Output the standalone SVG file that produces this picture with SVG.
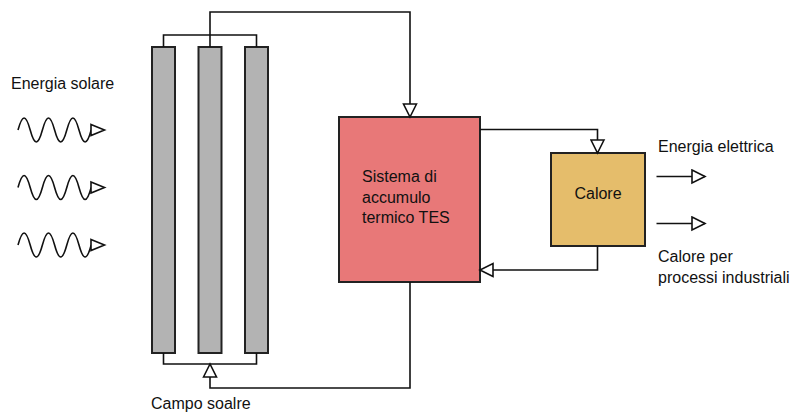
<svg xmlns="http://www.w3.org/2000/svg" width="792" height="414" viewBox="0 0 792 414">
<style>
text{font-family:"Liberation Sans",Arial,sans-serif;font-size:16px;fill:#111}
.panel{fill:#b3b3b3;stroke:#222;stroke-width:2}
.conn{fill:none;stroke:#111;stroke-width:1.6}
.wave{fill:none;stroke:#111;stroke-width:1.6}
.tri{fill:#fff;stroke:#111;stroke-width:1.6}
</style>
<defs>
<marker id="arr" markerUnits="userSpaceOnUse" markerWidth="16" markerHeight="16" viewBox="-1 -8 16 16" refX="13" refY="0" orient="auto">
<path d="M0,-6.5 L13,0 L0,6.5 Z" fill="#fff" stroke="#111" stroke-width="1.6"/>
</marker>
</defs>
<rect width="792" height="414" fill="#fff"/>

<g id="solar-input">
<text x="11" y="89">Energia solare</text>
<path class="wave" d="M18,130 c4.4,-16 7.8,-16 12.2,0 s7.8,16 12.2,0 s7.8,-16 12.2,0 s7.8,16 12.2,0 s7.8,-16 12.2,0 s7.8,16 12.2,0"/>
<polygon class="tri" points="91,124.5 104.5,130 91,135.5"/>
<path class="wave" d="M18,187.5 c4.4,-16 7.8,-16 12.2,0 s7.8,16 12.2,0 s7.8,-16 12.2,0 s7.8,16 12.2,0 s7.8,-16 12.2,0 s7.8,16 12.2,0"/>
<polygon class="tri" points="91,182 104.5,187.5 91,193"/>
<path class="wave" d="M18,245 c4.4,-16 7.8,-16 12.2,0 s7.8,16 12.2,0 s7.8,-16 12.2,0 s7.8,16 12.2,0 s7.8,-16 12.2,0 s7.8,16 12.2,0"/>
<polygon class="tri" points="91,239.5 104.5,245 91,250.5"/>
</g>

<g id="campo-solare">
<rect class="panel" x="152" y="47" width="23" height="306"/>
<rect class="panel" x="198.5" y="47" width="23" height="306"/>
<rect class="panel" x="245" y="47" width="23" height="306"/>
<text x="151" y="409">Campo soalre</text>
</g>

<g id="tes">
<rect x="339" y="117" width="141" height="165" fill="#e87878" stroke="#222" stroke-width="2"/>
<text x="362" y="182">Sistema di</text>
<text x="362" y="202.5">accumulo</text>
<text x="362" y="223">termico TES</text>
</g>

<g id="calore">
<rect x="551" y="153" width="94" height="93" fill="#e5bd6b" stroke="#222" stroke-width="2"/>
<text x="598" y="199" text-anchor="middle">Calore</text>
</g>

<g id="outputs">
<text x="658" y="152">Energia elettrica</text>
<text x="658" y="262">Calore per</text>
<text x="658" y="283">processi industriali</text>
</g>

<g id="connectors">
<path class="conn" d="M163.5,47 V35 H256.5 V47"/>
<path class="conn" d="M210,47 V12 H410 V117" marker-end="url(#arr)"/>
<path class="conn" d="M163.5,353 V364 H256.5 V353"/>
<path class="conn" d="M410,282 V388 H210 V364" marker-end="url(#arr)"/>
<path class="conn" d="M480,129.5 H597.5 V153" marker-end="url(#arr)"/>
<path class="conn" d="M597.5,246 V270 H480" marker-end="url(#arr)"/>
<path class="conn" d="M656.5,176.5 H705" marker-end="url(#arr)"/>
<path class="conn" d="M656.5,223.5 H705" marker-end="url(#arr)"/>
</g>
</svg>
